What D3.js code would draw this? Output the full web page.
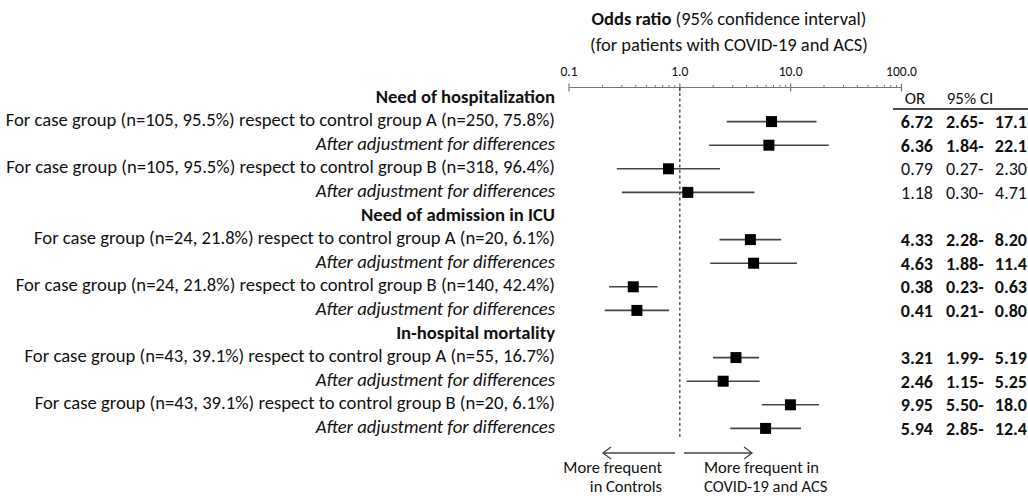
<!DOCTYPE html>
<html><head><meta charset="utf-8">
<script src="https://cdn.jsdelivr.net/npm/d3@7"></script>
<style>
html,body{margin:0;padding:0;background:#fff;}
svg text{font-family:Carlito,Lato,"Open Sans",sans-serif;fill:#111;}
</style></head>
<body><svg id="c" width="1028" height="496"></svg>
<script>
// ---- data ----
const rowLabels = [
  "Need of hospitalization",
  "For case group (n=105, 95.5%) respect to control group A (n=250, 75.8%)",
  "After adjustment for differences",
  "For case group (n=105, 95.5%) respect to control group B (n=318, 96.4%)",
  "After adjustment for differences",
  "Need of admission in ICU",
  "For case group (n=24, 21.8%) respect to control group A (n=20, 6.1%)",
  "After adjustment for differences",
  "For case group (n=24, 21.8%) respect to control group B (n=140, 42.4%)",
  "After adjustment for differences",
  "In-hospital mortality",
  "For case group (n=43, 39.1%) respect to control group A (n=55, 16.7%)",
  "After adjustment for differences",
  "For case group (n=43, 39.1%) respect to control group B (n=20, 6.1%)",
  "After adjustment for differences"
];
const rowKinds = ["header","main","adj","main","adj","header","main","adj","main","adj","header","main","adj","main","adj"];
const orValues = [null,6.72,6.36,0.79,1.18,null,4.33,4.63,0.38,0.41,null,3.21,2.46,9.95,5.94];
const ciLow    = [null,2.65,1.84,0.27,0.30,null,2.28,1.88,0.23,0.21,null,1.99,1.15,5.50,2.85];
const ciHigh   = [null,17.1,22.1,2.30,4.71,null,8.20,11.4,0.63,0.80,null,5.19,5.25,18.0,12.4];
const axisTicks = [0.1, 1, 10, 100];
const axisTickLabels = ["0.1","1.0","10.0","100.0"];
const minorTicks = [];
[0.1,1,10].forEach(d=>{for(let k=2;k<=9;k++) minorTicks.push(+(d*k).toPrecision(3));});

// ---- layout ----
const svg = d3.select("#c");
const x = d3.scaleLog().domain([0.1,100]).range([569,901.5]);
const y = d3.scaleLinear().domain([0,14]).range([98,428.4]);
const axisY = 87.5;
const labelRight = 555;

// fit font size of a string to a target width
function fitSize(str, target, weight, style){
  const t = svg.append("text").style("font-size","20px").attr("font-weight",weight||"normal")
    .attr("font-style",style||"normal").text(str);
  const w = t.node().getComputedTextLength();
  t.remove();
  return 20*target/w;
}
const fsLabel = fitSize(rowLabels[1], 550);
const fsTitle = fitSize("(for patients with COVID-19 and ACS)", 278);
const fsTab = 18;

// title
const t1 = svg.append("text").attr("x",729).attr("y",25).attr("text-anchor","middle").style("font-size",fsTitle+"px");
t1.append("tspan").attr("font-weight","bold").text("Odds ratio");
t1.append("tspan").text(" (95% confidence interval)");
svg.append("text").attr("x",729).attr("y",51).attr("text-anchor","middle").style("font-size",fsTitle+"px")
  .text("(for patients with COVID-19 and ACS)");

// axis
const g = svg.append("g");
g.append("line").attr("x1",x(0.1)).attr("x2",x(100)).attr("y1",axisY).attr("y2",axisY).attr("stroke","#777").attr("stroke-width",1.2);
g.selectAll(".maj").data(axisTicks).enter().append("line")
  .attr("x1",d=>x(d)).attr("x2",d=>x(d)).attr("y1",axisY-4).attr("y2",axisY+4).attr("stroke","#777").attr("stroke-width",1.2);
g.selectAll(".min").data(minorTicks).enter().append("line")
  .attr("x1",d=>x(d)).attr("x2",d=>x(d)).attr("y1",axisY-2.5).attr("y2",axisY).attr("stroke","#777").attr("stroke-width",1);
g.selectAll(".tl").data(axisTicks).enter().append("text")
  .attr("x",d=>x(d)).attr("y",axisY-12).attr("text-anchor","middle").style("font-size","13.5px")
  .text((d,i)=>axisTickLabels[i]);

// reference line at 1
svg.append("line").attr("x1",x(1)).attr("x2",x(1)).attr("y1",axisY).attr("y2",438)
  .attr("stroke","#333").attr("stroke-width",1.2).attr("stroke-dasharray","3,2.5");

// row labels
svg.selectAll(".rl").data(rowLabels).enter().append("text")
  .attr("x",labelRight).attr("y",(d,i)=>y(i)-2).attr("dy","0.35em").attr("text-anchor","end")
  .style("font-size",fsLabel+"px")
  .attr("font-weight",(d,i)=>rowKinds[i]==="header"?"bold":"normal")
  .attr("font-style",(d,i)=>rowKinds[i]==="adj"?"italic":"normal")
  .text(d=>d);

// CI lines and markers
const idx = d3.range(rowLabels.length).filter(i=>orValues[i]!==null);
svg.selectAll(".ci").data(idx).enter().append("line")
  .attr("x1",i=>x(ciLow[i])).attr("x2",i=>x(ciHigh[i]))
  .attr("y1",i=>y(i)).attr("y2",i=>y(i)).attr("stroke","#444").attr("stroke-width",1.6);
const ms = 11;
svg.selectAll(".pt").data(idx).enter().append("rect")
  .attr("x",i=>x(orValues[i])-ms/2).attr("y",i=>y(i)-ms/2).attr("width",ms).attr("height",ms).attr("fill","#000");

// table
svg.append("text").attr("x",915).attr("y",y(0)).attr("dy","0.35em").attr("text-anchor","middle").style("font-size","17px").text("OR");
svg.append("text").attr("x",970).attr("y",y(0)).attr("dy","0.35em").attr("text-anchor","middle").style("font-size","17px").text("95% CI");
svg.append("line").attr("x1",893).attr("x2",1028).attr("y1",109).attr("y2",109).attr("stroke","#111").attr("stroke-width",1.3);
const fmtHi = v => v>=10 ? v.toFixed(1) : v.toFixed(2);
const sig = i => ciLow[i]>1 || ciHigh[i]<1;
svg.selectAll(".orv").data(idx).enter().append("text")
  .attr("x",933).attr("y",i=>y(i)).attr("dy","0.35em").attr("text-anchor","end")
  .style("font-size",fsTab+"px").attr("font-weight",i=>sig(i)?"bold":"normal")
  .text(i=>orValues[i].toFixed(2));
svg.selectAll(".cilo").data(idx).enter().append("text")
  .attr("x",946).attr("y",i=>y(i)).attr("dy","0.35em").attr("text-anchor","start")
  .style("font-size",fsTab+"px").attr("font-weight",i=>sig(i)?"bold":"normal")
  .text(i=>ciLow[i].toFixed(2)+"-");
svg.selectAll(".cihi").data(idx).enter().append("text")
  .attr("x",1027).attr("y",i=>y(i)).attr("dy","0.35em").attr("text-anchor","end")
  .style("font-size",fsTab+"px").attr("font-weight",i=>sig(i)?"bold":"normal")
  .text(i=>fmtHi(ciHigh[i]));

// arrows
const ay = 453;
const arr = svg.append("g").attr("stroke","#444").attr("stroke-width",1.3).attr("fill","none");
arr.append("line").attr("x1",603).attr("x2",675).attr("y1",ay).attr("y2",ay);
arr.append("path").attr("d",`M${611},${ay-6}L${603},${ay}L${611},${ay+6}`);
arr.append("line").attr("x1",684).attr("x2",752).attr("y1",ay).attr("y2",ay);
arr.append("path").attr("d",`M${744},${ay-6}L${752},${ay}L${744},${ay+6}`);
const fsArr = 16.5;
svg.append("text").attr("x",662).attr("y",473).attr("text-anchor","end").style("font-size",fsArr+"px").text("More frequent");
svg.append("text").attr("x",662).attr("y",492).attr("text-anchor","end").style("font-size",fsArr+"px").text("in Controls");
svg.append("text").attr("x",704).attr("y",473).attr("text-anchor","start").style("font-size",fsArr+"px").text("More frequent in");
svg.append("text").attr("x",704).attr("y",492).attr("text-anchor","start").style("font-size",fsArr+"px").text("COVID-19 and ACS");
</script></body></html>
